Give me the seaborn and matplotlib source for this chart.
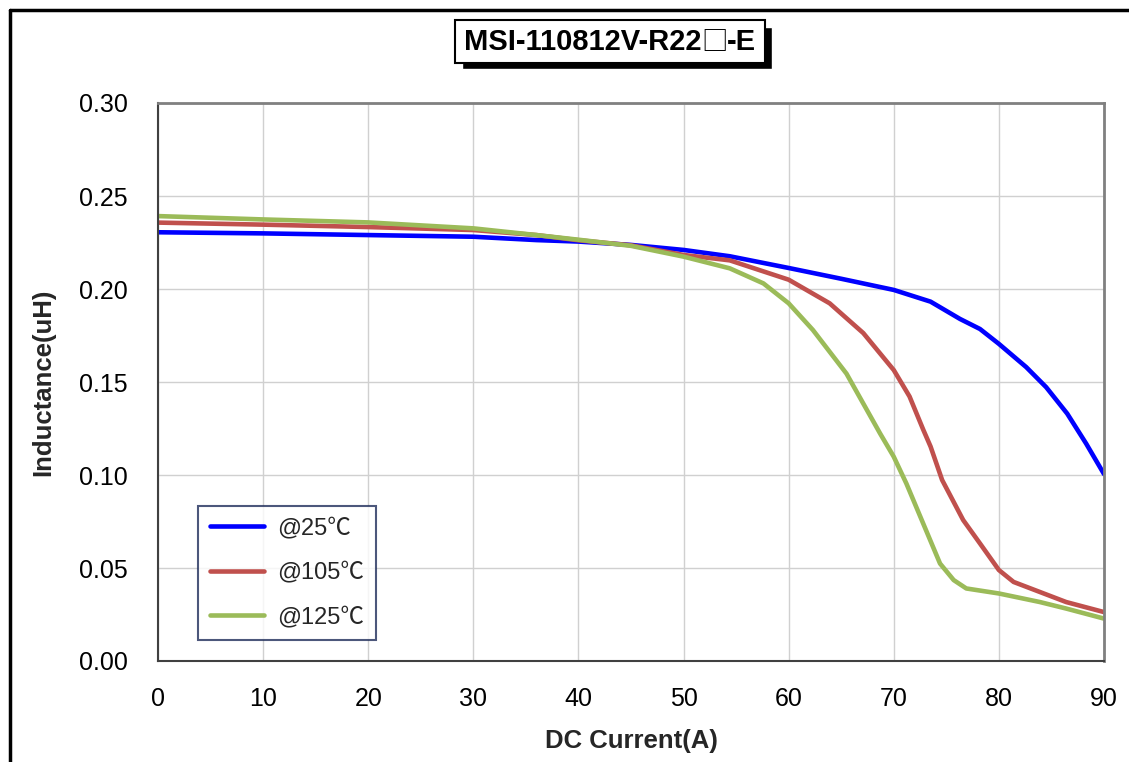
import matplotlib
matplotlib.use("Agg")
import matplotlib.pyplot as plt
import matplotlib.patches as patches
from matplotlib.lines import Line2D
from matplotlib.offsetbox import TextArea, HPacker, AnnotationBbox
import seaborn as sns
import pandas as pd

# values
current_25 = [0, 10, 20, 30, 36, 40, 45, 50, 54.4, 60, 65, 70, 73.5, 76.3, 78.2, 80,
              82.6, 84.5, 86.5, 88.3, 90]
induct_25 = [0.2305, 0.2299, 0.229, 0.2281, 0.2263, 0.2255, 0.2237, 0.221, 0.2176, 0.2113,
             0.2055, 0.1995, 0.1932, 0.1839, 0.1785, 0.1705, 0.158, 0.1472, 0.133, 0.1169, 0.1005]

current_105 = [0, 10, 20, 30, 36, 40, 45, 50, 54.4, 60, 63.9, 67.1, 70, 71.5, 72.8, 73.5,
               74.6, 76.6, 78.2, 80, 81.4, 83.9, 86.4, 90]
induct_105 = [0.2357, 0.2346, 0.2333, 0.2317, 0.229, 0.2262, 0.2235, 0.2183, 0.2154, 0.205,
              0.1923, 0.1763, 0.1564, 0.1422, 0.1244, 0.1153, 0.0973, 0.0758, 0.0632, 0.0489,
              0.0425, 0.0371, 0.0317, 0.0263]

current_125 = [0, 10, 20, 30, 36, 40, 45, 50, 54.4, 57.6, 60, 62.3, 65.5, 68.7, 70, 71.2,
               72.8, 74.4, 75.7, 76.9, 80, 83.9, 86.4, 90]
induct_125 = [0.2392, 0.2374, 0.2358, 0.2326, 0.229, 0.2265, 0.2232, 0.2174, 0.2111, 0.203,
              0.1923, 0.178, 0.1545, 0.1223, 0.1098, 0.0954, 0.0739, 0.0524, 0.0435, 0.039,
              0.0363, 0.0317, 0.0282, 0.0228]

labels = ["@25℃", "@105℃", "@125℃"]
colors = ["#0000FF", "#C0504D", "#9BBB59"]
title_parts = ["MSI-110812V-R22", "□", "-E"]

frames = []
for lab, xs, ys in zip(labels, [current_25, current_105, current_125],
                       [induct_25, induct_105, induct_125]):
    frames.append(pd.DataFrame({"current": xs, "inductance": ys, "temp": lab}))
df = pd.concat(frames, ignore_index=True)

sns.set_style("white")
plt.rcParams["font.family"] = ["Liberation Sans", "Noto Sans CJK SC", "DejaVu Sans"]

fig = plt.figure(figsize=(11.29, 7.62), dpi=100)
W, H = 1129, 762
ax = fig.add_axes([158 / W, 1 - 661 / H, (1104 - 158) / W, (661 - 103) / H])

sns.lineplot(data=df, x="current", y="inductance", hue="temp", hue_order=labels,
             palette=colors, linewidth=3.3, ax=ax, legend=False)

ax.set_xlim(0, 90)
ax.set_ylim(0, 0.30)
ax.set_xticks(range(0, 91, 10))
ax.set_yticks([0, 0.05, 0.10, 0.15, 0.20, 0.25, 0.30])
ax.set_yticklabels([f"{v:.2f}" for v in ax.get_yticks()])
ax.tick_params(axis="both", labelsize=18, colors="black", direction="in",
               length=6, width=1.2)
ax.tick_params(axis="x", color="#404040", pad=19)
ax.tick_params(axis="y", color="#404040", pad=22)
ax.grid(True, color="#D0D0D0", linewidth=1)
for side in ["top", "right"]:
    ax.spines[side].set_color("#808080")
    ax.spines[side].set_linewidth(2)
for side in ["left", "bottom"]:
    ax.spines[side].set_color("#404040")
    ax.spines[side].set_linewidth(1.5)

ax.set_xlabel("DC Current(A)", fontsize=18.5, fontweight="bold", labelpad=13)
ax.set_ylabel("Inductance(uH)", fontsize=18.5, fontweight="bold", labelpad=17)

# legend box
handles = [Line2D([0], [0], color=c, linewidth=3.3) for c in colors]
leg = ax.legend(handles, labels, loc="lower left", bbox_to_anchor=(40 / 946, 21 / 558),
                frameon=True, fancybox=False, handlelength=2.3,
                labelspacing=0.95, borderpad=0.5, handletextpad=0.55, borderaxespad=0,
                prop={"family": ["Liberation Sans", "Noto Sans CJK SC"], "size": 17})
leg.get_frame().set_edgecolor("#1F2D5A")
leg.get_frame().set_linewidth(1.5)

# title box with shadow
shadow = patches.Rectangle((462 / W, 1 - 69 / H), (772 - 462) / W, (69 - 27) / H,
                           transform=fig.transFigure, facecolor="black", zorder=1)
fig.add_artist(shadow)
box = patches.Rectangle((455 / W, 1 - 63 / H), (765 - 455) / W, (63 - 20) / H,
                        transform=fig.transFigure, facecolor="white", edgecolor="black",
                        linewidth=1.5, zorder=2)
fig.add_artist(box)
bold = dict(fontsize=21, fontweight="bold", color="black")
pieces = [
    TextArea(title_parts[0], textprops=dict(family="Liberation Sans", **bold)),
    TextArea(title_parts[1], textprops=dict(family="Noto Sans CJK SC", fontsize=19,
                                            color="black")),
    TextArea(title_parts[2], textprops=dict(family="Liberation Sans", **bold)),
]
packed = HPacker(children=pieces, align="baseline", pad=0, sep=0)
ab = AnnotationBbox(packed, (610 / W, 1 - 42 / H), xycoords="figure fraction",
                    frameon=False, box_alignment=(0.5, 0.5), zorder=3)
fig.add_artist(ab)

# outer frame (left and top edges)
fig.add_artist(Line2D([10 / W, 10 / W], [0, 1 - 10 / H], transform=fig.transFigure,
                      color="black", linewidth=2.5))
fig.add_artist(Line2D([10 / W, 1], [1 - 10 / H, 1 - 10 / H], transform=fig.transFigure,
                      color="black", linewidth=2.5))

fig.savefig("out.png", dpi=100)
